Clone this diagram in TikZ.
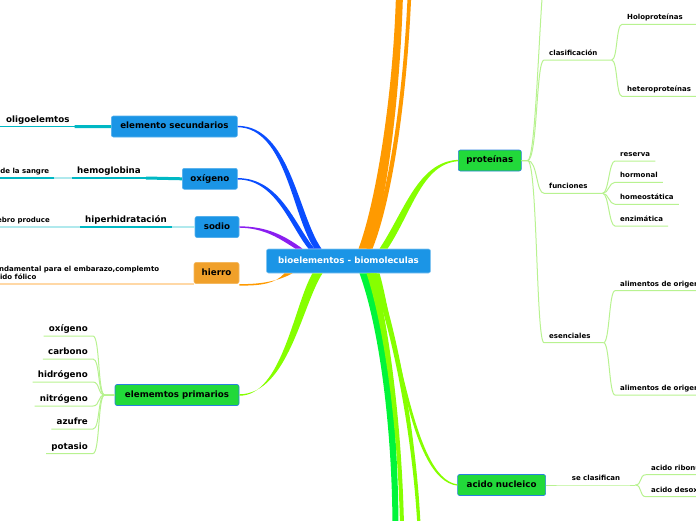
\documentclass[tikz,border=0pt]{standalone}
\usepackage{fontspec}
\setsansfont{DejaVu Sans}
\usetikzlibrary{calc}

\definecolor{mmblue}{HTML}{1B95E6}
\definecolor{mmgreen}{HTML}{22D93A}
\definecolor{mmorange}{HTML}{F0A02A}
\definecolor{edgeblue}{HTML}{2B7FE0}
\definecolor{brblue}{HTML}{0A4DFF}
\definecolor{brpurple}{HTML}{8A1EF0}
\definecolor{brorange}{HTML}{FF9A00}
\definecolor{brlime}{HTML}{86FF00}
\definecolor{brgreen}{HTML}{00F53A}
\definecolor{lncyan}{HTML}{00B8C4}
\definecolor{lnpalecyan}{HTML}{B0E9ED}
\definecolor{lnpaleorange}{HTML}{FFD8A6}
\definecolor{lnlime}{HTML}{B8F290}

\begin{document}
\begin{tikzpicture}[x=1pt, y=-1pt,
    box/.style={rectangle, rounded corners=2pt, minimum height=21pt, inner xsep=6pt, inner ysep=0pt, text height=6.4pt, text depth=1.8pt, line width=0.6pt, font=\sffamily\bfseries\fontsize{8.7}{10}\selectfont},
    bluebox/.style={box, fill=mmblue, draw=mmblue!75!white},
    greenbox/.style={box, fill=mmgreen, draw=edgeblue},
    orangebox/.style={box, fill=mmorange, draw=mmorange!75!white},
    rootbox/.style={box, fill=mmblue, draw=mmblue!55!white, text=white, minimum height=24pt},
    lbl/.style={inner xsep=5pt, inner ysep=4pt, text depth=0pt, font=\sffamily\bfseries\fontsize{8.7}{10}\selectfont},
    small/.style={lbl, inner ysep=4.5pt, font=\sffamily\bfseries\fontsize{7}{8}\selectfont},
    limeline/.style={draw=lnlime, line width=1pt},
    cyanline/.style={draw=lncyan, line width=1.3pt},
    cyanthick/.style={draw=lncyan, line width=3pt},
    paleline/.style={draw=lnpalecyan, line width=1.3pt},
    orangeline/.style={draw=lnpaleorange, line width=1.5pt}
  ]

  \useasboundingbox (0,0) rectangle (696,520);
  \clip (0,0) rectangle (696,520);

  % Nodes
  \node[rootbox, minimum width=164pt] (bio) at (348.5,261) {bioelementos - biomoleculas};

  \node[bluebox, minimum width=126pt, anchor=east] (sec) at (237.7,126.5) {elemento secundarios};
  \node[bluebox, minimum width=55pt, anchor=east] (ox) at (237.7,178.8) {oxígeno};
  \node[bluebox, minimum width=44pt, anchor=east] (sodio) at (239.3,227) {sodio};
  \node[orangebox, minimum width=45pt, anchor=east] (hierro) at (239.3,273) {hierro};
  \node[greenbox, minimum width=124pt, anchor=east] (prim) at (239.3,395) {elememtos primarios};

  \node[greenbox, minimum width=63pt, anchor=west] (pro) at (458,160.5) {proteínas};
  \node[greenbox, minimum width=88pt, anchor=west] (acid) at (457.3,485) {acido nucleico};

  % left labels
  \node[lbl, anchor=south west] (oligo) at (1,126.7) {oligoelemtos};
  \node[lbl, anchor=south west] (hemo) at (72,178) {hemoglobina};
  \node[small, anchor=south east] (sangre) at (54.4,178) {de la sangre};
  \node[lbl, anchor=south west] (hiper) at (80,227) {hiperhidratación};
  \node[small, anchor=south east] (cerebro) at (55,227) {cerebro produce};
  \node[small, anchor=south west, align=left] (fund) at (-14,283.8) {fundamental para el embarazo,complemto\\ácido fólico};

  \node[lbl, anchor=south east] (c1) at (93,336) {oxígeno};
  \node[lbl, anchor=south east] (c2) at (93,359) {carbono};
  \node[lbl, anchor=south east] (c3) at (93,382) {hidrógeno};
  \node[lbl, anchor=south east] (c4) at (93,406) {nitrógeno};
  \node[lbl, anchor=south east] (c5) at (93,429) {azufre};
  \node[lbl, anchor=south east] (c6) at (93,453.5) {potasio};

  % right labels
  \node[small, anchor=south west] (clas) at (544,60) {clasificación};
  \node[small, anchor=south west] (func) at (544,193.3) {funciones};
  \node[small, anchor=south west] (esen) at (544,342.7) {esenciales};
  \node[small, anchor=south west] (holo) at (622,24.3) {Holoproteínas};
  \node[small, anchor=south west] (hetero) at (622,96.3) {heteroproteínas};
  \node[small, anchor=south west] (reserva) at (615,161) {reserva};
  \node[small, anchor=south west] (hormonal) at (615,182.3) {hormonal};
  \node[small, anchor=south west] (homeo) at (615,204.3) {homeostática};
  \node[small, anchor=south west] (enzim) at (615,226) {enzimática};
  \node[small, anchor=south west] (alim1) at (615,290.7) {alimentos de origen};
  \node[small, anchor=south west] (alim2) at (615,395) {alimentos de origen};
  \node[small, anchor=south] (secl) at (596,485) {se clasifican};
  \node[small, anchor=south west] (ribo) at (646,474.7) {acido ribonucleico};
  \node[small, anchor=south west] (desox) at (646,496.7) {acido desoxirribonucleico};

  \coordinate (topA) at (399.5,-6);
  \coordinate (topB) at (409.5,-6);
  \coordinate (botA) at (395.5,526);
  \coordinate (botB) at (402,526);
  \coordinate (botC) at (419,526);
  \coordinate (protop) at (548,-45);

  % Main branches
  \fill[brblue] ($(bio.north)+(-27,0)$) .. controls (298,215) and (290,126) .. ($(sec.east)+(0,-0.7)$) -- ($(sec.east)+(0,0.7)$) .. controls (286,128) and (292,216) .. ($(bio.north)+(-34,0)$) -- cycle;
  \fill[brblue] ($(bio.north)+(-34,0)$) .. controls (295,225) and (280,178) .. ($(ox.east)+(0,-0.7)$) -- ($(ox.east)+(0,0.7)$) .. controls (276,179.5) and (290,226) .. ($(bio.north)+(-40,0)$) -- cycle;
  \fill[brpurple] ($(bio.north)+(-46,0)$) .. controls (285,236) and (268,226.5) .. ($(sodio.east)+(0,-0.7)$) -- ($(sodio.east)+(0,0.7)$) .. controls (265,228) and (280,239) .. ($(bio.north)+(-53,0)$) -- cycle;
  \fill[brorange] ($(bio.south)+(-56,0)$) .. controls (278,281) and (262,284.3) .. ($(hierro.south east)+(0,0.3)$) -- ($(hierro.south east)+(0,1.7)$) .. controls (262,286) and (276,283) .. ($(bio.south)+(-64,0)$) -- cycle;
  \fill[brlime] ($(bio.south)+(-26,0)$) .. controls (302,305) and (288,394) .. ($(prim.east)+(0,-0.7)$) -- ($(prim.east)+(0,0.7)$) .. controls (282,396) and (294,305) .. ($(bio.south)+(-36,0)$) -- cycle;

  \fill[brorange] ($(bio.north)+(10,0)$) .. controls (375,205) and (393,100) .. ($(topA)+(-3.5,0)$) -- ($(topA)+(3.5,0)$) .. controls (400,100) and (386,205) .. ($(bio.north)+(22,0)$) -- cycle;
  \fill[brorange] ($(bio.north)+(18,0)$) .. controls (388,200) and (403,100) .. ($(topB)+(-1.8,0)$) -- ($(topB)+(1.8,0)$) .. controls (407,100) and (392,200) .. ($(bio.north)+(24,0)$) -- cycle;
  \fill[brlime] ($(bio.north)+(31,0)$) .. controls (405,210) and (418,162) .. ($(pro.west)+(0,-0.7)$) -- ($(pro.west)+(0,0.7)$) .. controls (422,164) and (412,212) .. ($(bio.north)+(39,0)$) -- cycle;

  \fill[brgreen] ($(bio.south)+(11,0)$) .. controls (380,330) and (392,430) .. ($(botA)+(-3,0)$) -- ($(botA)+(3,0)$) .. controls (398,430) and (388,330) .. ($(bio.south)+(22,0)$) -- cycle;
  \fill[brlime] ($(bio.south)+(18,0)$) .. controls (385,330) and (398,430) .. ($(botB)+(-2,0)$) -- ($(botB)+(2,0)$) .. controls (402,430) and (390,330) .. ($(bio.south)+(26,0)$) -- cycle;
  \fill[brlime] ($(bio.south)+(22,0)$) .. controls (392,330) and (412,430) .. ($(botC)+(-1.6,0)$) -- ($(botC)+(1.6,0)$) .. controls (416,430) and (397,330) .. ($(bio.south)+(28,0)$) -- cycle;
  \fill[brlime] ($(bio.south)+(26,0)$) .. controls (400,330) and (412,478) .. ($(acid.west)+(0,-0.6)$) -- ($(acid.west)+(0,0.6)$) .. controls (408,480) and (396,330) .. ($(bio.south)+(31,0)$) -- cycle;

  % Left connectors
  \draw[cyanthick] (sec.west) -- (oligo.south east);
  \draw[cyanline] (oligo.south east) -- (oligo.south west) -- ++(-10,0);
  \draw[cyanthick] (ox.west) -- (hemo.south east);
  \draw[cyanline] (hemo.south east) -- (hemo.south west);
  \draw[paleline] (hemo.south west) -- (sangre.south east);
  \draw[cyanline] (sangre.south east) -- (sangre.south west) -- ++(-10,0);
  \draw[paleline] (sodio.west) -- (hiper.south east);
  \draw[cyanline] (hiper.south east) -- (hiper.south west);
  \draw[paleline] (hiper.south west) -- (cerebro.south east) -- (cerebro.south west) -- ++(-10,0);
  \draw[orangeline] (hierro.south west) -- (fund.south east) -- (fund.south west) -- ++(-10,0);

  \draw[limeline] (prim.west) -- ++(-10,0) .. controls +(-7,0) and +(7,0) .. (c1.south east) -- (c1.south west);
  \draw[limeline] (prim.west) -- ++(-10,0) .. controls +(-7,0) and +(7,0) .. (c2.south east) -- (c2.south west);
  \draw[limeline] (prim.west) -- ++(-10,0) .. controls +(-7,0) and +(7,0) .. (c3.south east) -- (c3.south west);
  \draw[limeline] (prim.west) -- ++(-10,0) .. controls +(-7,0) and +(7,0) .. (c4.south east) -- (c4.south west);
  \draw[limeline] (prim.west) -- ++(-10,0) .. controls +(-7,0) and +(7,0) .. (c5.south east) -- (c5.south west);
  \draw[limeline] (prim.west) -- ++(-10,0) .. controls +(-7,0) and +(7,0) .. (c6.south east) -- (c6.south west);

  % Right connectors
  \draw[limeline] (pro.east) -- ++(6,0) .. controls +(10,0) and +(-8,0) .. (protop);
  \draw[limeline] (pro.east) -- ++(6,0) .. controls +(10,0) and +(-8,0) .. (clas.south west) -- (clas.south east) -- ++(9,0) coordinate (clasj);
  \draw[limeline] (pro.east) -- ++(6,0) .. controls +(10,0) and +(-8,0) .. (func.south west) -- (func.south east) -- ++(10,0) coordinate (funcj);
  \draw[limeline] (pro.east) -- ++(6,0) .. controls +(10,0) and +(-8,0) .. (esen.south west) -- (esen.south east) -- ++(8,0) coordinate (esenj);

  \draw[limeline] (clasj) .. controls +(6,0) and +(-6,0) .. (holo.south west) -- ++(90,0);
  \draw[limeline] (clasj) .. controls +(6,0) and +(-6,0) .. (hetero.south west) -- ++(90,0);
  \draw[limeline] (funcj) .. controls +(6,0) and +(-6,0) .. (reserva.south west) -- (reserva.south east);
  \draw[limeline] (funcj) .. controls +(6,0) and +(-6,0) .. (hormonal.south west) -- (hormonal.south east);
  \draw[limeline] (funcj) .. controls +(6,0) and +(-6,0) .. (homeo.south west) -- (homeo.south east);
  \draw[limeline] (funcj) .. controls +(6,0) and +(-6,0) .. (enzim.south west) -- (enzim.south east);
  \draw[limeline] (esenj) .. controls +(6,0) and +(-6,0) .. (alim1.south west) -- ++(90,0);
  \draw[limeline] (esenj) .. controls +(6,0) and +(-6,0) .. (alim2.south west) -- ++(90,0);

  \draw[limeline] (acid.east) -- (secl.south west) -- (secl.south east) -- ++(10,0) coordinate (aj);
  \draw[limeline] (aj) .. controls +(7,0) and +(-7,0) .. (ribo.south west) -- ++(90,0);
  \draw[limeline] (aj) .. controls +(7,0) and +(-7,0) .. (desox.south west) -- ++(90,0);

\end{tikzpicture}
\end{document}
